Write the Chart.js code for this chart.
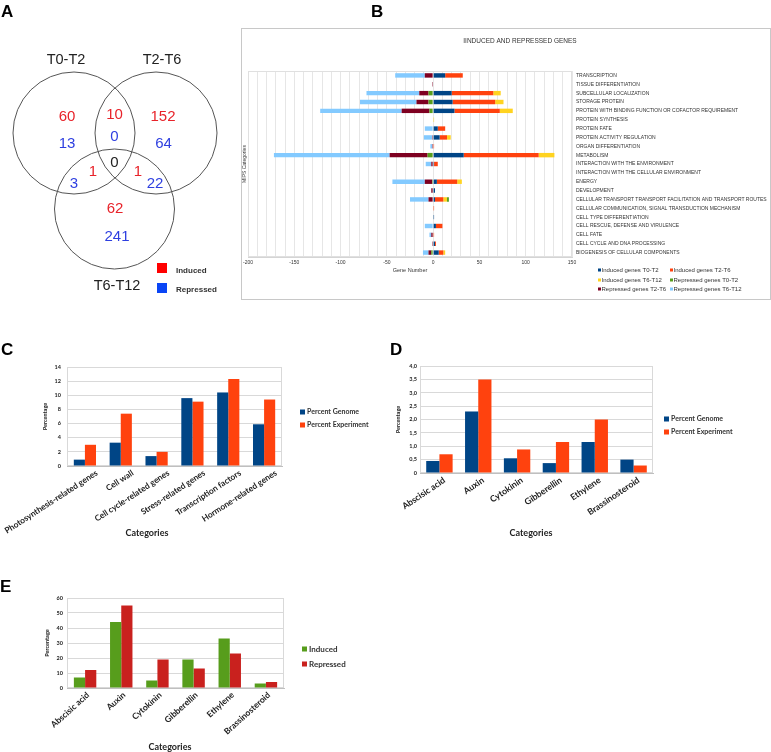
<!DOCTYPE html>
<html>
<head>
<meta charset="utf-8">
<title>Induced and repressed genes</title>
<script src="https://cdn.jsdelivr.net/npm/chart.js@4.4.1/dist/chart.umd.min.js"></script>
<style>
  body { margin: 0; background: #fff; }
  #page { position: relative; width: 771px; height: 752px; overflow: hidden; }
  .panel { position: absolute; display: block; }
  canvas { display: block; }
  .tag { position: absolute; font: bold 17px "Liberation Sans", Arial, sans-serif; line-height: 17px; color: #000; }
  #boxB { border: 1px solid #c8c8c8; }
</style>
</head>
<body>
<div id="page">
  <canvas class="panel" id="venn" width="240" height="310" style="left:0;top:0"></canvas>
  <div class="panel" id="boxB" style="left:241px;top:28px;width:528px;height:270px"><canvas id="mips" width="528" height="270"></canvas></div>
  <canvas class="panel" id="genome" width="390" height="190" style="left:0;top:355px"></canvas>
  <canvas class="panel" id="hormone" width="381" height="190" style="left:390px;top:355px"></canvas>
  <canvas class="panel" id="regulation" width="390" height="162" style="left:0;top:590px"></canvas>
  <div class="tag" style="left:1px;top:3px">A</div>
  <div class="tag" style="left:371px;top:3px">B</div>
  <div class="tag" style="left:1px;top:341px">C</div>
  <div class="tag" style="left:390px;top:341px">D</div>
  <div class="tag" style="left:0px;top:578px">E</div>
</div>
<script>
// ---- A: Venn counts ----
const vennSets = ['T0-T2', 'T2-T6', 'T6-T12'];
// regions: T0-T2 only, T0-T2+T2-T6, T2-T6 only, T0-T2+T6-T12, T2-T6+T6-T12, T6-T12 only
const vennInduced   = [60, 10, 152, 1, 1, 62];
const vennRepressed = [13, 0, 64, 3, 22, 241];
const vennCommon = 0;

// ---- B: MIPS categories ----
const mipsCategories = [
  'TRANSCRIPTION', 'TISSUE DIFFERENTIATION', 'SUBCELLULAR LOCALIZATION', 'STORAGE PROTEIN',
  'PROTEIN WITH BINDING FUNCTION OR COFACTOR REQUIREMENT', 'PROTEIN SYNTHESIS', 'PROTEIN FATE',
  'PROTEIN ACTIVITY REGULATION', 'ORGAN DIFFERENTIATION', 'METABOLISM',
  'INTERACTION WITH THE ENVIRONMENT', 'INTERACTION WITH THE CELLULAR ENVIRONMENT', 'ENERGY',
  'DEVELOPMENT', 'CELLULAR TRANSPORT TRANSPORT FACILITATION AND TRANSPORT ROUTES',
  'CELLULAR COMMUNICATION, SIGNAL TRANSDUCTION MECHANISM', 'CELL TYPE DIFFERENTIATION',
  'CELL RESCUE, DEFENSE AND VIRULENCE', 'CELL FATE', 'CELL CYCLE AND DNA PROCESSING',
  'BIOGENESIS OF CELLULAR COMPONENTS'
];
const inducedT0T2    = [13, 0, 20, 21, 23, 0, 5, 7, 0, 33, 1, 0, 4, 2, 2, 0, 1, 3, 0, 2, 6];
const inducedT2T6    = [19, 0, 45, 46, 49, 0, 8, 8, 1, 81, 4, 0, 22, 0, 9, 1, 0, 7, 1, 1, 5];
const inducedT6T12   = [0, 0, 8, 9, 14, 1, 0, 4, 0, 17, 0, 0, 5, 0, 4, 0, 0, 0, 0, 0, 2];
const repressedT0T2  = [0, 0, -5, -5, -4, 0, 0, 0, 0, -6, 0, 0, -1, 0, 2, 0, 0, 0, 0, 0, -2];
const repressedT2T6  = [-9, -1, -10, -13, -30, 0, 0, -1, -1, -41, -2, 0, -8, -2, -5, 0, 0, 0, -2, -1, -3];
const repressedT6T12 = [-32, 0, -57, -61, -88, 0, -9, -9, -2, -125, -6, 0, -35, 0, -20, 0, 0, -9, -2, 0, -6];

// ---- C: percent of genome / experiment ----
const geneGroups = ['Photosynthesis-related genes', 'Cell wall', 'Cell cycle-related genes',
  'Stress-related genes', 'Transcription factors', 'Hormone-related genes'];
const groupGenome     = [0.9, 3.3, 1.4, 9.6, 10.4, 5.9];
const groupExperiment = [3.0, 7.4, 2.0, 9.1, 12.3, 9.4];

// ---- D / E: hormones ----
const hormones = ['Abscisic acid', 'Auxin', 'Cytokinin', 'Gibberellin', 'Ethylene', 'Brassinosteroid'];
const hormoneGenome     = [0.45, 2.3, 0.55, 0.37, 1.16, 0.5];
const hormoneExperiment = [0.7, 3.5, 0.88, 1.16, 2.0, 0.28];
const hormoneInduced    = [7, 44, 5, 19, 33, 3];
const hormoneRepressed  = [12, 55, 19, 13, 23, 4];

Chart.defaults.animation = false;
Chart.defaults.color = '#333';
Chart.defaults.font.family = 'Lato, "Liberation Sans", sans-serif';
Chart.defaults.plugins.legend.display = false;
Chart.defaults.plugins.tooltip.enabled = false;

const LIB = '"Liberation Sans", Arial, sans-serif';

function framePlugin(color) {
  return {
    id: 'frame',
    beforeDatasetsDraw(chart) {
      const { ctx, chartArea: a } = chart;
      ctx.save();
      ctx.strokeStyle = color;
      ctx.lineWidth = 1;
      ctx.strokeRect(Math.round(a.left) + 0.5, Math.round(a.top) + 0.5, Math.round(a.width) - 1, Math.round(a.height) - 1);
      ctx.restore();
    }
  };
}

// legend drawn from the datasets, row by row over the given columns
function boxLegend(cols, rows, box, gap, font) {
  return {
    id: 'boxLegend',
    afterDraw(chart) {
      const ctx = chart.ctx;
      ctx.save();
      ctx.font = font;
      ctx.textBaseline = 'middle';
      chart.data.datasets.forEach((ds, i) => {
        const x = cols[i % cols.length];
        const y = rows[Math.floor(i / cols.length)];
        ctx.fillStyle = ds.backgroundColor;
        ctx.fillRect(x, y - box / 2, box, box);
        ctx.fillStyle = '#333';
        ctx.fillText(ds.label, x + gap, y);
      });
      ctx.restore();
    }
  };
}

// ---- A ----
const vennPlugin = {
  id: 'venn',
  afterDraw(chart) {
    const { ctx } = chart;
    const x = chart.scales.x, y = chart.scales.y;
    const px = v => x.getPixelForValue(v), py = v => y.getPixelForValue(v);
    const circles = [[74, 133, 61], [156, 133, 61], [114.5, 209, 60]];
    const setPos = [[66, 60], [162, 60], [117, 286]];
    const indPos = [[67, 117], [114.5, 115], [163, 117], [93, 172], [138, 172], [115, 209]];
    const repPos = [[67, 144], [114.5, 137], [163.5, 144], [74, 184], [155, 184], [117, 237]];
    ctx.save();
    ctx.strokeStyle = '#555';
    ctx.lineWidth = 1;
    circles.forEach(c => {
      ctx.beginPath();
      ctx.arc(px(c[0]), py(c[1]), px(c[0] + c[2]) - px(c[0]), 0, Math.PI * 2);
      ctx.stroke();
    });
    ctx.textAlign = 'center';
    ctx.textBaseline = 'middle';
    ctx.font = '14.5px ' + LIB;
    ctx.fillStyle = '#222';
    vennSets.forEach((s, i) => ctx.fillText(s, px(setPos[i][0]), py(setPos[i][1])));
    ctx.font = '15px ' + LIB;
    ctx.fillStyle = '#e8232a';
    vennInduced.forEach((v, i) => ctx.fillText(v, px(indPos[i][0]), py(indPos[i][1])));
    ctx.fillStyle = '#2e3fe0';
    vennRepressed.forEach((v, i) => ctx.fillText(v, px(repPos[i][0]), py(repPos[i][1])));
    ctx.fillStyle = '#222';
    ctx.fillText(vennCommon, px(114.5), py(163));
    // legend
    ctx.fillStyle = '#ff0000';
    ctx.fillRect(px(157), py(263), 10, 10);
    ctx.fillStyle = '#0a45f5';
    ctx.fillRect(px(157), py(283), 10, 10);
    ctx.textAlign = 'left';
    ctx.font = 'bold 8px ' + LIB;
    ctx.fillStyle = '#333';
    ctx.fillText('Induced', px(176), py(271));
    ctx.fillText('Repressed', px(176), py(290));
    ctx.restore();
  }
};

new Chart(document.getElementById('venn'), {
  type: 'scatter',
  data: { datasets: [] },
  options: {
    responsive: false,
    layout: { padding: 0 },
    scales: {
      x: { display: false, min: 0, max: 240 },
      y: { display: false, min: 0, max: 310, reverse: true }
    }
  },
  plugins: [vennPlugin]
});

// ---- B ----
const mipsDecor = {
  id: 'mipsDecor',
  afterDraw(chart) {
    const ctx = chart.ctx;
    ctx.save();
    ctx.fillStyle = '#333';
    ctx.textAlign = 'center';
    ctx.textBaseline = 'middle';
    ctx.font = '6.5px ' + LIB;
    ctx.fillText('IINDUCED AND REPRESSED GENES', 278, 12);
    ctx.font = '5px ' + LIB;
    ctx.translate(3, 135);
    ctx.rotate(-Math.PI / 2);
    ctx.fillText('MIPS Categories', 0, 0);
    ctx.restore();
  }
};

new Chart(document.getElementById('mips'), {
  type: 'bar',
  data: {
    labels: mipsCategories,
    datasets: [
      { label: 'Induced genes T0-T2', data: inducedT0T2, backgroundColor: '#004586' },
      { label: 'Induced genes T2-T6', data: inducedT2T6, backgroundColor: '#ff420e' },
      { label: 'Induced genes T6-T12', data: inducedT6T12, backgroundColor: '#ffd320' },
      { label: 'Repressed genes T0-T2', data: repressedT0T2, backgroundColor: '#579d1c' },
      { label: 'Repressed genes T2-T6', data: repressedT2T6, backgroundColor: '#7e0021' },
      { label: 'Repressed genes T6-T12', data: repressedT6T12, backgroundColor: '#83caff' }
    ]
  },
  options: {
    indexAxis: 'y',
    responsive: false,
    layout: { padding: { left: 6, top: 42, right: 0, bottom: 25 } },
    datasets: { bar: { categoryPercentage: 0.5, barPercentage: 1 } },
    scales: {
      x: {
        stacked: true, min: -200, max: 150,
        grid: { color: '#e6e6e6', drawTicks: false },
        border: { color: '#d4d4d4' },
        ticks: {
          stepSize: 10, autoSkip: false, maxRotation: 0, padding: 3,
          font: { family: LIB, size: 5 },
          callback: v => (v % 50 === 0 ? v : '')
        },
        title: { display: true, text: 'Gene Number', font: { family: LIB, size: 5.5 }, padding: 0 },
        afterFit: s => { s.height = 17; s.paddingLeft = 0; s.paddingRight = 0; }
      },
      y: {
        stacked: true, position: 'right',
        grid: { display: false, drawTicks: false },
        border: { display: false },
        ticks: { autoSkip: false, padding: 4, font: { family: LIB, size: 5 } },
        afterFit: s => { s.width = 198; s.paddingTop = 0; s.paddingBottom = 0; }
      }
    }
  },
  plugins: [framePlugin('#e0e0e0'), mipsDecor,
    boxLegend([356, 428], [241, 251, 260], 3, 3.5, '6px ' + LIB)]
});

// ---- C, D, E ----
function axisCaption(text, x, y) {
  return {
    id: 'axisCaption',
    afterDraw(chart) {
      const ctx = chart.ctx;
      ctx.save();
      ctx.font = 'bold 9px Lato, sans-serif';
      ctx.fillStyle = '#222';
      ctx.textAlign = 'center';
      ctx.textBaseline = 'middle';
      ctx.fillText(text, x, y);
      ctx.restore();
    }
  };
}

function groupedBars(id, labels, series, yScale, box) {
  return new Chart(document.getElementById(id), {
    type: 'bar',
    data: { labels: labels, datasets: series },
    options: {
      responsive: false,
      layout: { padding: box.pad },
      datasets: { bar: { categoryPercentage: box.catPct, barPercentage: 1 } },
      scales: {
        x: {
          grid: { display: false, drawTicks: false },
          border: { color: '#bfbfbf' },
          ticks: {
            autoSkip: false, minRotation: box.rot, maxRotation: box.rot, padding: 2,
            labelOffset: box.labelShift,
            color: '#222', font: { size: box.tickFont, weight: 'bold' }
          },
          afterFit: s => { s.height = box.xh; s.paddingLeft = 0; s.paddingRight = 0; }
        },
        y: Object.assign({
          grid: { color: '#d9d9d9', drawTicks: false },
          border: { display: false },
          title: { display: true, text: 'Percentage', color: '#222', font: { size: 5.5, weight: 'bold' }, padding: 0 },
          afterFit: s => { s.width = box.yw; s.paddingTop = 0; s.paddingBottom = 0; }
        }, yScale)
      }
    },
    plugins: [framePlugin('#d9d9d9'),
      boxLegend([box.legX], box.legY, 5, 7, 'bold ' + box.legFont + 'px Lato, sans-serif'),
      axisCaption('Categories', box.capX, box.capY)]
  });
}

groupedBars('genome', geneGroups, [
  { label: 'Percent Genome', data: groupGenome, backgroundColor: '#004586' },
  { label: 'Percent Experiment', data: groupExperiment, backgroundColor: '#ff420e' }
], {
  min: 0, max: 14,
  ticks: { stepSize: 2, padding: 6, color: '#222', font: { size: 5.5, weight: 'bold' } }
}, { pad: { left: 42, right: 108, top: 12, bottom: 6.6 }, yw: 25, xh: 72.4, catPct: 0.62,
     rot: 33, tickFont: 8.3, labelShift: 12,
     legX: 300, legY: [57, 70], legFont: 7, capX: 147, capY: 178 });

groupedBars('hormone', hormones, [
  { label: 'Percent Genome', data: hormoneGenome, backgroundColor: '#004586' },
  { label: 'Percent Experiment', data: hormoneExperiment, backgroundColor: '#ff420e' }
], {
  min: 0, max: 4,
  ticks: {
    stepSize: 0.5, padding: 3, color: '#222', font: { size: 5.5, weight: 'bold' },
    callback: v => (v === 0 ? '0' : v.toFixed(1).replace('.', ','))
  }
}, { pad: { left: 5, right: 118, top: 11, bottom: 6.6 }, yw: 25, xh: 65.4, catPct: 0.68,
     rot: 34, tickFont: 8.8, labelShift: 5,
     legX: 274, legY: [64, 77], legFont: 7, capX: 141, capY: 178 });

groupedBars('regulation', hormones, [
  { label: 'Induced', data: hormoneInduced, backgroundColor: '#579d1c' },
  { label: 'Repressed', data: hormoneRepressed, backgroundColor: '#c9211e' }
], {
  min: 0, max: 60,
  ticks: { stepSize: 10, padding: 4, color: '#222', font: { size: 5.5, weight: 'bold' } }
}, { pad: { left: 44, right: 106, top: 8, bottom: 0 }, yw: 23, xh: 64, catPct: 0.62,
     rot: 42, tickFont: 8.5, labelShift: 3,
     legX: 302, legY: [59, 74], legFont: 8, capX: 170, capY: 157 });
</script>
</body>
</html>
